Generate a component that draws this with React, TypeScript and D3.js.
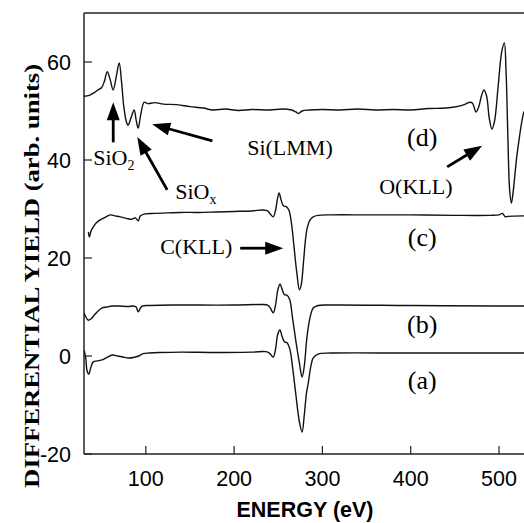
import React from "react";
import * as d3 from "d3";

// Auger spectra: energy (eV) vs differential yield, four offset traces
const curveD: [number, number][] = [
  [30, 53.0], [36, 53.2], [42, 53.8], [46, 54.3], [50, 54.8], [53, 56], [56.3, 58.0], [59.5, 56.5],
  [63, 54.3], [66.5, 57], [69.9, 59.8], [72.5, 56], [75, 51], [78, 47.8], [80, 47.1], [83, 48.5],
  [86.8, 50.2], [89.2, 48], [91.4, 46.5], [94, 49], [98.2, 51.8], [102, 51.5], [110, 51.7],
  [120, 51.4], [135, 51.3], [150, 50.9], [165, 50.6], [176, 50.2], [190, 50.4], [205, 50.1],
  [220, 50.3], [240, 50.2], [255, 50.4], [265, 50.2], [270, 49.8], [273, 49.5], [277, 50.0],
  [285, 50.2], [300, 50.3], [320, 50.2], [340, 50.4], [360, 50.2], [380, 50.3], [400, 50.2],
  [420, 50.5], [440, 50.6], [455, 51.0], [462, 51.4], [467, 51.8], [470, 51.6], [474, 49.8],
  [477, 50.8], [480, 53], [483, 54.3], [486, 53], [489, 48.5], [492, 46.3], [495, 48],
  [499, 55], [503, 62], [506, 63.9], [508, 58], [510, 45], [512, 34], [514, 31.2],
  [516, 33.5], [518, 37], [520, 40.5], [523, 44.5], [526, 48], [529, 50], [535, 50.5],
];

const curveC: [number, number][] = [
  [35, 25.3], [36, 24.3], [38, 25.5], [40.4, 26.3], [44, 27.2], [48.4, 27.8], [54, 28.3],
  [59.7, 28.8], [65, 28.6], [71, 28.4], [78, 28.1], [84, 27.9], [88, 28.2], [91.4, 27.6],
  [94, 28.6], [99.3, 29], [110, 29.1], [125, 29.2], [139, 29.3], [160, 29.3], [180, 29.4],
  [200, 29.5], [220, 29.6], [233, 29.8], [238, 29.6], [241, 29.0], [244.3, 28.4], [247, 29.8],
  [249, 32], [251, 33.3], [253, 32], [256, 30.6], [259, 30.5], [262, 29.8], [265, 27],
  [268, 22], [271, 17], [274, 13.5], [276, 14.5], [278.5, 19], [281, 24], [283, 26.3],
  [286, 27.8], [289.6, 28.4], [295, 28.7], [310, 28.8], [350, 28.8], [400, 28.8], [450, 28.7],
  [490, 28.7], [500, 28.8], [504, 29.1], [507, 28.4], [510, 28.5], [530, 28.6], [535, 28.6],
];

const curveB: [number, number][] = [
  [30.2, 8.8], [32, 8.0], [34.8, 7.3], [38, 7.6], [42, 8.4], [46, 9.2], [50.6, 9.8], [56, 10.0],
  [62, 10.2], [70, 10.2], [80, 10.1], [86, 10.2], [89, 10.0], [91.4, 9.0], [94, 9.8], [96, 10.2],
  [105, 10.3], [130, 10.4], [160, 10.4], [200, 10.4], [230, 10.5], [238, 10.4], [241, 9.8],
  [244.3, 8.8], [247, 10.5], [249.5, 13.5], [252, 14.7], [254, 13.8], [257, 12.5], [260, 12.4],
  [263, 11.5], [266, 8], [270, 3], [274, -1.5], [277, -4.3], [279.5, -2], [282, 3], [284, 5.9],
  [287, 8.6], [289.6, 9.8], [295, 10.3], [310, 10.4], [400, 10.3], [500, 10.2], [535, 10.2],
];

const curveA: [number, number][] = [
  [30.2, 1.2], [32, -0.5], [33.5, -3], [35.5, -3.7], [37.5, -2.5], [40.4, -1.2], [45, -1.0],
  [50.6, -0.8], [56, -0.3], [62, 0.2], [68, 0.0], [74, -0.2], [80, -0.4], [86, -0.3], [92, 0.0],
  [97, 0.5], [104, 0.6], [115, 0.7], [140, 0.8], [180, 0.7], [220, 0.8], [236, 0.9], [240, 0.6],
  [244.3, -0.2], [247, 1.5], [249.5, 4.5], [252, 5.3], [254, 4.2], [257, 2.9], [260, 2.7],
  [263, 1.5], [266, -2], [270, -8], [274, -13.5], [277, -15.5], [279.5, -12], [282, -7.5],
  [284, -5.5], [287, -2], [289.6, -0.4], [295, 0.4], [310, 0.6], [400, 0.6], [500, 0.6], [535, 0.6],
];

const seriesList = [curveA, curveB, curveC, curveD];
const seriesNames = ["(a)", "(b)", "(c)", "(d)"];
const seriesLabelY = [-6.7, 4.7, 22.4, 42.9];
const seriesLabelX = 413;

const xTicks = [100, 200, 300, 400, 500];
const yTicks = [-20, 0, 20, 40, 60];

// peak annotations: text anchor point and arrow tail -> tip, in data units
const peakLabels = [
  { text: "SiO", sub: "2", x: 40.5, y: 39, from: [63.1, 43.6], to: [63.1, 51.8] },
  { text: "SiO", sub: "x", x: 133.3, y: 32, from: [124.2, 33.9], to: [90.3, 44.7] },
  { text: "Si(LMM)", sub: "", x: 214.8, y: 41, from: [175.4, 43.9], to: [107.2, 47.3] },
  { text: "C(KLL)", sub: "", x: 116.3, y: 20.8, from: [206.9, 22.0], to: [255.6, 22.0] },
  { text: "O(KLL)", sub: "", x: 364.3, y: 33, from: [441.3, 38.6], to: [480.9, 42.9] },
];

const W = 524;
const H = 523;

export default function App() {
  const x = d3.scaleLinear().domain([30, 530]).range([84, 525.5]);
  const y = d3.scaleLinear().domain([-20, 70]).range([454, 13]);

  const line = d3
    .line<[number, number]>()
    .x((d) => x(d[0]))
    .y((d) => y(d[1]))
    .curve(d3.curveCatmullRom.alpha(0.5));

  const serif = "'Liberation Serif', 'Times New Roman', serif";
  const sans = "'Liberation Sans', Arial, sans-serif";

  const arrow = (from: number[], to: number[], key: string) => {
    const x1 = x(from[0]);
    const y1 = y(from[1]);
    const x2 = x(to[0]);
    const y2 = y(to[1]);
    const ang = Math.atan2(y2 - y1, x2 - x1);
    const headLen = 18;
    const headHalf = 6.5;
    const bx = x2 - headLen * Math.cos(ang);
    const by = y2 - headLen * Math.sin(ang);
    const px = -Math.sin(ang) * headHalf;
    const py = Math.cos(ang) * headHalf;
    return (
      <g key={key}>
        <line x1={x1} y1={y1} x2={bx + 1 * Math.cos(ang)} y2={by + 1 * Math.sin(ang)} stroke="#000" strokeWidth={2.8} />
        <polygon
          points={`${x2},${y2} ${bx + px},${by + py} ${bx - px},${by - py}`}
          fill="#000"
        />
      </g>
    );
  };

  return (
    <svg
      width={W}
      height={H}
      style={{ position: "absolute", left: 0, top: 0, background: "#fff" }}
    >
      <defs>
        <clipPath id="plotClip">
          <rect x={84} y={13} width={W - 84} height={454 - 13} />
        </clipPath>
      </defs>

      {/* frame */}
      <line x1={84} y1={13} x2={W} y2={13} stroke="#222" strokeWidth={1.5} />
      <line x1={84} y1={13} x2={84} y2={454} stroke="#333" strokeWidth={1.6} />
      <line x1={84} y1={454} x2={W} y2={454} stroke="#222" strokeWidth={1.5} />

      {/* ticks */}
      {xTicks.map((t) => (
        <g key={"xt" + t}>
          <line x1={x(t)} x2={x(t)} y1={454} y2={446} stroke="#222" strokeWidth={1.2} />
          <text
            x={x(t)}
            y={486}
            textAnchor="middle"
            fontFamily={sans}
            fontSize={21.5}
            fill="#000"
          >
            {t}
          </text>
        </g>
      ))}
      {yTicks.map((t) => (
        <g key={"yt" + t}>
          <line x1={84} x2={92} y1={y(t)} y2={y(t)} stroke="#222" strokeWidth={1.2} />
          <text
            x={71}
            y={y(t) + 7.5}
            textAnchor="end"
            fontFamily={sans}
            fontSize={21.5}
            fill="#000"
          >
            {t}
          </text>
        </g>
      ))}

      {/* axis titles */}
      <text
        x={305}
        y={517}
        textAnchor="middle"
        fontFamily={sans}
        fontWeight="bold"
        fontSize={21.5}
        fill="#000"
      >
        ENERGY (eV)
      </text>
      <text
        transform="translate(39,276) rotate(-90)"
        textAnchor="middle"
        fontFamily={serif}
        fontWeight="bold"
        fontSize={21}
        textLength={424}
        lengthAdjust="spacingAndGlyphs"
        fill="#000"
      >
        DIFFERENTIAL YIELD (arb. units)
      </text>

      {/* spectra */}
      <g clipPath="url(#plotClip)">
        {seriesList.map((s, i) => (
          <path
            key={"s" + i}
            d={line(s) || ""}
            fill="none"
            stroke="#111"
            strokeWidth={1.4}
            strokeLinejoin="round"
          />
        ))}
      </g>

      {/* trace letters */}
      {seriesNames.map((n, i) => (
        <text
          key={n}
          x={x(seriesLabelX)}
          y={y(seriesLabelY[i])}
          textAnchor="middle"
          fontFamily={serif}
          fontSize={26}
          fill="#000"
        >
          {n}
        </text>
      ))}

      {/* peak annotations */}
      {peakLabels.map((p, i) => (
        <g key={"p" + i}>
          <text x={x(p.x)} y={y(p.y)} fontFamily={serif} fontSize={22} fill="#000">
            {p.text}
            {p.sub && (
              <tspan fontSize={14} dy={5}>
                {p.sub}
              </tspan>
            )}
          </text>
          {arrow(p.from, p.to, "a" + i)}
        </g>
      ))}
    </svg>
  );
}
